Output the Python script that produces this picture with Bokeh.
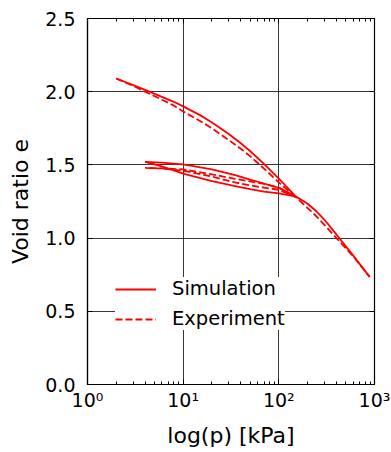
from bokeh.plotting import figure
from bokeh.models import (Range1d, FixedTicker, LinearAxis, LogAxis, Legend, LegendItem,
                          NumeralTickFormatter)
from bokeh.embed import file_html
from bokeh.resources import INLINE

# Simulation: loading, unloading, reloading + virgin compression
sim_p = [2, 3, 4, 6, 8, 10, 15, 20, 30, 40, 50, 70, 100, 150,
         100, 70, 50, 35, 20, 10, 6, 4,
         6, 10, 20, 35, 50, 70, 100, 150, 200, 250, 300, 400, 600, 890]
sim_e = [2.09, 2.045, 2.012, 1.965, 1.931, 1.90, 1.84, 1.79, 1.711, 1.648, 1.595, 1.507, 1.406, 1.285,
         1.343, 1.373, 1.40, 1.43, 1.47, 1.503, 1.515, 1.52,
         1.49, 1.44, 1.39, 1.355, 1.335, 1.318, 1.305, 1.285, 1.235, 1.18, 1.125, 1.025, 0.88, 0.735]

# Experiment
exp_p = [2, 3, 4, 6, 8, 10, 15, 20, 30, 40, 50, 70, 100, 150,
         100, 70, 35, 20, 10, 6, 4,
         6, 10, 20, 35, 50, 70, 100, 150, 200, 250, 300, 400, 600, 890]
exp_e = [2.09, 2.04, 2.0, 1.945, 1.905, 1.865, 1.80, 1.75, 1.67, 1.61, 1.56, 1.475, 1.38, 1.28,
         1.345, 1.37, 1.405, 1.435, 1.469, 1.477, 1.48,
         1.475, 1.46, 1.42, 1.38, 1.36, 1.345, 1.33, 1.28, 1.205, 1.145, 1.09, 1.0, 0.875, 0.735]

x_ticks = [1, 10, 100, 1000]
x_tick_labels = ["10\u2070", "10\u00b9", "10\u00b2", "10\u00b3"]
y_ticks = [0.0, 0.5, 1.0, 1.5, 2.0, 2.5]
x_minor = [m * d for d in (1, 10, 100) for m in range(2, 10)]

FONT = "DejaVu Sans"

p = figure(width=391, height=452, x_axis_type="log",
           x_range=Range1d(1, 1000), y_range=Range1d(0, 2.5),
           output_backend="svg", toolbar_location=None,
           min_border_left=87, min_border_right=17, min_border_top=18, min_border_bottom=68)
p.background_fill_color = "white"
p.border_fill_color = "white"
p.outline_line_color = "black"
p.outline_line_width = 1.2

r_sim = p.line(sim_p, sim_e, line_color="#ff0000", line_width=1.8)
r_exp = p.line(exp_p, exp_e, line_color="#ff0000", line_width=1.8, line_dash="7 3")

xt = FixedTicker(ticks=x_ticks, minor_ticks=x_minor)
yt = FixedTicker(ticks=y_ticks)

xa = p.xaxis[0]
xa.ticker = xt
xa.major_label_overrides = {t: l for t, l in zip(x_ticks, x_tick_labels)}
ya = p.yaxis[0]
ya.ticker = yt
ya.formatter = NumeralTickFormatter(format="0.0")

for ax in (xa, ya):
    ax.axis_line_color = "black"
    ax.axis_line_width = 1.2
    ax.major_tick_in = 5
    ax.major_tick_out = 0
    ax.minor_tick_in = 3
    ax.minor_tick_out = 0
    ax.major_tick_line_color = "black"
    ax.minor_tick_line_color = "black"
    ax.major_label_text_font = FONT
    ax.major_label_text_font_size = "19px"
    ax.major_label_text_color = "black"
    ax.axis_label_text_font = FONT
    ax.axis_label_text_font_size = "22px"
    ax.axis_label_text_font_style = "normal"
    ax.axis_label_text_color = "black"
ya.minor_tick_line_color = None
xa.axis_label = "log(p) [kPa]"
ya.axis_label = "Void ratio e"
xa.major_label_standoff = 4
ya.major_label_standoff = 12
xa.axis_label_standoff = 9
ya.axis_label_standoff = 9

# mirror axes (ticks only, no labels)
top = LogAxis(ticker=FixedTicker(ticks=x_ticks, minor_ticks=x_minor),
              major_label_text_color=None, major_label_text_font_size="6px",
              major_label_standoff=0,
              major_tick_in=5, major_tick_out=0,
              minor_tick_in=3, minor_tick_out=0, axis_line_color="black")
right = LinearAxis(ticker=FixedTicker(ticks=y_ticks),
                   major_label_text_color=None, major_label_text_font_size="6px",
                   major_label_standoff=0,
                   major_tick_in=5, major_tick_out=0,
                   minor_tick_line_color=None, axis_line_color="black")
p.add_layout(top, "above")
p.add_layout(right, "right")

p.xgrid.ticker = xt
p.ygrid.ticker = yt
for g in (p.xgrid[0], p.ygrid[0]):
    g.grid_line_color = "#222222"
    g.grid_line_width = 1
    g.grid_line_alpha = 0.9
p.xgrid.minor_grid_line_color = None

legend = Legend(items=[LegendItem(label="Simulation", renderers=[r_sim]),
                       LegendItem(label="Experiment", renderers=[r_exp])],
                location=(28, 54))
legend.label_text_font = FONT
legend.label_text_font_size = "19.5px"
legend.label_text_color = "black"
legend.glyph_width = 41
legend.glyph_height = 20
legend.label_height = 20
legend.label_standoff = 16
legend.spacing = 7
legend.padding = 10
legend.border_line_color = None
legend.background_fill_color = "white"
legend.background_fill_alpha = 1.0
p.add_layout(legend, "center")

open("out.html", "w").write(file_html(p, INLINE))
